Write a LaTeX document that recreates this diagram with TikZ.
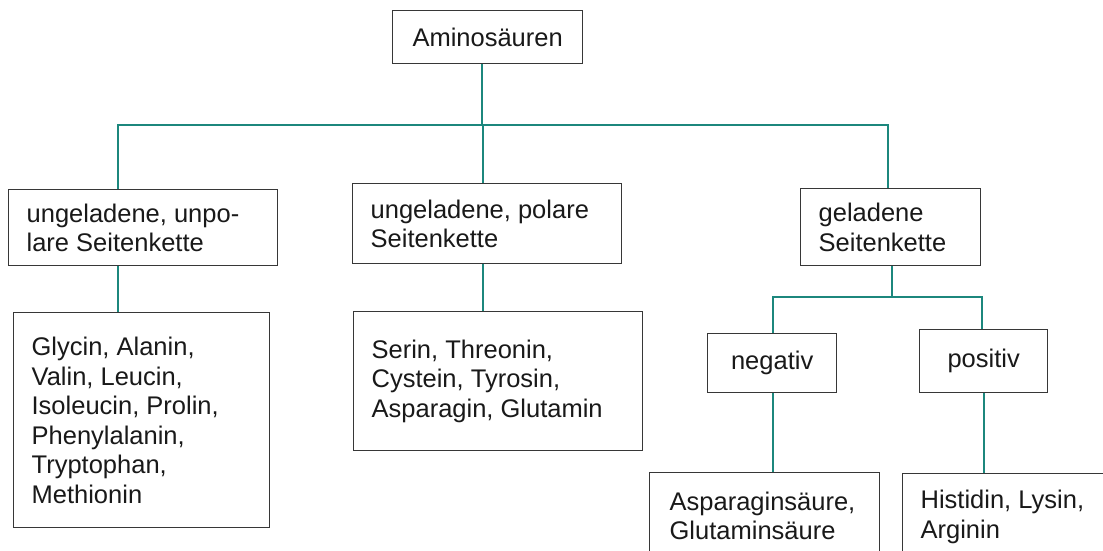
\documentclass[tikz,border=0pt]{standalone}
\usepackage{fontspec}
\setmainfont{Liberation Sans}
\definecolor{linkteal}{RGB}{28,135,125}
\definecolor{boxedge}{RGB}{55,55,55}
\definecolor{ink}{RGB}{25,25,25}
\begin{document}
\begin{tikzpicture}[x=1pt,y=-1pt,
  box/.style={draw=boxedge, line width=1.3pt, fill=white, text=ink,
    font=\fontsize{25.5}{29.5}\selectfont, inner sep=0pt, anchor=north west},
  leftbox/.style={box, align=flush left, inner xsep=18pt},
  centerbox/.style={box, align=center},
  link/.style={draw=linkteal, line width=1.3pt}]
\useasboundingbox (0,0) rectangle (1103,550);
\clip (0,0) rectangle (1103,550);

% classification boxes
\node[centerbox, minimum width=190pt, minimum height=53pt] (amino) at (392,10) {Aminosäuren};
\node[leftbox, text width=233pt, minimum height=76pt] (unpolar) at (8,189) {ungeladene, unpo-\\lare Seitenkette};
\node[leftbox, text width=233pt, minimum height=80pt] (polar) at (352,183) {ungeladene, polare\\Seitenkette};
\node[leftbox, text width=144pt, minimum height=77pt] (charged) at (800,188) {geladene\\Seitenkette};
\node[leftbox, text width=220pt, minimum height=215pt] (unpolarlist) at (13,312)
  {Glycin, Alanin,\\Valin, Leucin,\\Isoleucin, Prolin,\\Phenylalanin,\\Tryptophan,\\Methionin};
\node[leftbox, text width=253pt, minimum height=139pt] (polarlist) at (353,311)
  {Serin, Threonin,\\Cystein, Tyrosin,\\Asparagin, Glutamin};
\node[centerbox, minimum width=129pt, minimum height=59pt] (neg) at (707,333) {negativ};
\node[centerbox, minimum width=128pt, minimum height=63pt] (pos) at (919,329) {positiv};
\node[leftbox, inner xsep=20pt, text width=190pt, minimum height=86pt] (neglist) at (649,472)
  {Asparaginsäure,\\Glutaminsäure};
\node[leftbox, text width=182pt, minimum height=86pt] (poslist) at (902,473)
  {Histidin, Lysin,\\Arginin};

% junction points of the tree
\coordinate (hub) at (482,125);
\coordinate (busL) at (118,125);
\coordinate (busM) at (483,125);
\coordinate (busR) at (888,125);
\coordinate (split) at (892,297);
\coordinate (splitL) at (773,297);
\coordinate (splitR) at (982,297);
\coordinate (posdrop) at (984,400);

% connectors
\draw[link] (amino.south -| hub) -- (hub);
\draw[link] (busL |- unpolar.north) -- (busL) -- (busR) -- (busR |- charged.north);
\draw[link] (busM) -- (busM |- polar.north);
\draw[link] (busL |- unpolar.south) -- (busL |- unpolarlist.north);
\draw[link] (busM |- polar.south) -- (busM |- polarlist.north);
\draw[link] (split |- charged.south) -- (split);
\draw[link] (splitL |- neg.north) -- (splitL) -- (splitR) -- (splitR |- pos.north);
\draw[link] (splitL |- neg.south) -- (splitL |- neglist.north);
\draw[link] (posdrop |- pos.south) -- (posdrop |- poslist.north);
\end{tikzpicture}
\end{document}
